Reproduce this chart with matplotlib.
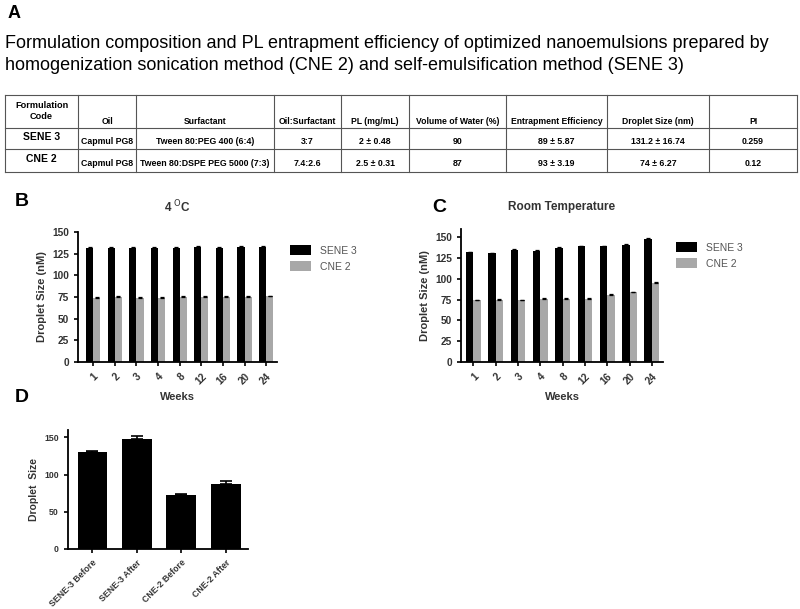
import numpy as np
import matplotlib.pyplot as plt

# ---- data ----
tbl_header = ["Formulation\nCode", "Oil", "Surfactant", "Oil:Surfactant", "PL (mg/mL)",
              "Volume of Water (%)", "Entrapment Efficiency", "Droplet Size (nm)", "PI"]
tbl_rows = [
    ["SENE 3", "Capmul PG8", "Tween 80:PEG 400 (6:4)", "3:7", "2 \u00b1 0.48", "90",
     "89 \u00b1 5.87", "131.2 \u00b1 16.74", "0.259"],
    ["CNE 2", "Capmul PG8", "Tween 80:DSPE PEG 5000 (7:3)", "7.4:2.6", "2.5 \u00b1 0.31", "87",
     "93 \u00b1 3.19", "74 \u00b1 6.27", "0.12"],
]

weeks = ["1", "2", "3", "4", "8", "12", "16", "20", "24"]
cold_sene = [132, 132, 132, 132, 132, 133, 132, 133, 133]
cold_sene_err = [0.6, 0.5, 0.5, 0.5, 0.6, 0.6, 0.5, 0.6, 0.6]
cold_cne = [74, 75, 74, 74, 75, 75, 75.5, 75, 76]
cold_cne_err = [0.6, 0.6, 0.6, 0.6, 0.6, 0.6, 0.6, 0.6, 0.6]

rt_sene = [132, 131, 135, 134, 137, 139, 139, 141, 148]
rt_sene_err = [0.6, 0.6, 0.6, 0.6, 0.8, 0.6, 0.6, 0.8, 1.2]
rt_cne = [74, 75, 74, 76, 76, 76, 81, 84, 95]
rt_cne_err = [0.6, 0.6, 0.6, 0.6, 0.8, 1.0, 0.8, 0.8, 0.8]

d_labels = ["SENE-3 Before", "SENE-3 After", "CNE-2 Before", "CNE-2 After"]
d_vals = [131, 148, 73, 87]
d_err = [1, 4, 1, 5]

W, H = 800, 609
fig = plt.figure(figsize=(W / 100, H / 100), dpi=100)
narrow = ["Liberation Sans", "DejaVu Sans"]
arial = ["Liberation Sans", "DejaVu Sans"]
grey_txt = "#333333"

# overlay axes in pixel coords for text and table
ov = fig.add_axes([0, 0, 1, 1])
ov.set_xlim(0, W)
ov.set_ylim(H, 0)
ov.axis("off")

ov.text(8, 13, "A", fontsize=13, fontweight="bold", family=arial, va="center")
ov.text(5, 44, "Formulation composition and PL entrapment efficiency of optimized nanoemulsions prepared by",
        fontsize=13.0, family=narrow, va="center")
ov.text(5, 66, "homogenization sonication method (CNE 2) and self-emulsification method (SENE 3)",
        fontsize=13.0, family=narrow, va="center")

cols = [5, 78, 136, 274, 341, 409, 506, 607, 709, 797]
rows = [95, 128, 149, 172]
for y in rows:
    ov.plot([cols[0], cols[-1]], [y, y], color="#555555", lw=0.8)
for x in cols:
    ov.plot([x, x], [rows[0], rows[-1]], color="#555555", lw=0.8)
for j, h in enumerate(tbl_header):
    xc = (cols[j] + cols[j + 1]) / 2
    if j == 0:
        ov.text(xc, 111, h, ha="center", va="center", fontsize=6.6, fontweight="bold",
                family=narrow, linespacing=1.2)
    else:
        ov.text(xc, 121, h, ha="center", va="center", fontsize=6.2, fontweight="bold", family=narrow)
for i, r in enumerate(tbl_rows):
    yc = (rows[i + 1] + rows[i + 2]) / 2
    for j, v in enumerate(r):
        xc = (cols[j] + cols[j + 1]) / 2
        if j == 0:
            ov.text(xc, yc - 1, v, ha="center", va="center", fontsize=7.5, fontweight="bold", family=narrow)
        else:
            ov.text(xc, yc + 3, v, ha="center", va="center", fontsize=6.3, fontweight="bold", family=narrow)

ov.text(15, 202, "B", fontsize=14, fontweight="bold", family=arial, va="center")
ov.text(432, 207, "C", fontsize=14, fontweight="bold", family=arial, va="center")
ov.text(15, 397, "D", fontsize=14, fontweight="bold", family=arial, va="center")


def pix_axes(l, r, t, b):
    return fig.add_axes([l / W, (H - b) / H, (r - l) / W, (b - t) / H])


def style(ax, size=7.3):
    for s in ["top", "right"]:
        ax.spines[s].set_visible(False)
    for s in ["left", "bottom"]:
        ax.spines[s].set_linewidth(1.3)
    ax.tick_params(width=1.2, length=3, labelsize=size)
    for lab in ax.get_yticklabels() + ax.get_xticklabels():
        lab.set_fontweight("bold")
        lab.set_family(arial)
        lab.set_color(grey_txt)


def weekly(ax, sene, sene_err, cne, cne_err, title, top):
    x = np.arange(len(weeks))
    w = 0.33
    ek = dict(lw=0.9, capthick=0.9)
    ax.bar(x - w / 2, sene, w, yerr=[np.zeros(len(x)), sene_err], color="black", capsize=1.5,
           error_kw=ek, label="SENE 3")
    ax.bar(x + w / 2, cne, w, yerr=[np.zeros(len(x)), cne_err], color="#a8a8a8", ecolor="black",
           capsize=1.5, error_kw=ek, label="CNE 2")
    ax.set_ylim(0, top)
    ax.set_yticks([0, 25, 50, 75, 100, 125, 150])
    ax.set_xticks(x)
    ax.set_xticklabels(weeks, rotation=45, ha="right", rotation_mode="anchor")
    ax.set_ylabel("Droplet Size (nM)", fontsize=8, fontweight="bold", family=arial, color=grey_txt)
    ax.set_xlabel("Weeks", fontsize=8, fontweight="bold", family=arial, color=grey_txt, labelpad=4)
    ax.set_title(title, fontsize=8.5, fontweight="bold", family=arial, color=grey_txt, pad=14)
    style(ax)
    ax.legend(loc="upper left", bbox_to_anchor=(1.02, 0.97), frameon=False,
              handlelength=2.0, handleheight=1.1, labelcolor="#555555",
              prop={"family": arial, "size": 7.5})


axB = pix_axes(78, 277, 232, 362)
axB.set_xlim(-0.7, 8.5)
weekly(axB, cold_sene, cold_sene_err, cold_cne, cold_cne_err, "4 $^{\\mathrm{O}}$C", 150)

axC = pix_axes(461, 663, 229, 362)
axC.set_xlim(-0.55, 8.5)
weekly(axC, rt_sene, rt_sene_err, rt_cne, rt_cne_err, "Room Temperature", 160)

axD = pix_axes(68, 248, 430, 549)
xd = np.arange(len(d_labels))
axD.bar(xd, d_vals, 0.67, yerr=[np.zeros(len(xd)), d_err], color="black", capsize=4.5,
        error_kw=dict(lw=1.2, capthick=1.2))
axD.set_xlim(-0.55, 3.5)
axD.set_ylim(0, 160)
axD.set_yticks([0, 50, 100, 150])
axD.set_xticks(xd)
axD.set_xticklabels(d_labels, rotation=45, ha="right", rotation_mode="anchor")
axD.set_ylabel("Droplet  Size", fontsize=7.5, fontweight="bold", family=arial, color=grey_txt)
style(axD, size=6.3)

fig.savefig("out.png", dpi=100)
